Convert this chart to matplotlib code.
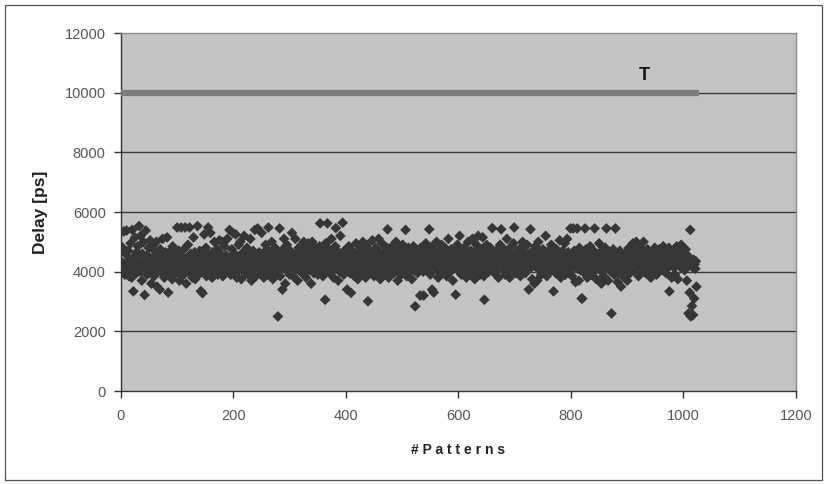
import numpy as np
import matplotlib
matplotlib.use("Agg")
import matplotlib.pyplot as plt
from matplotlib.patches import Rectangle

plt.rcParams['font.family'] = ['Liberation Sans', 'DejaVu Sans']

# Measured path delay [ps] for each test pattern (pattern index = position)
delay_ps = [
    4100, 3950, 4820, 4300, 4050, 5350, 4200, 3900, 4600, 4150, 5380, 4250, 4000, 4700, 3850, 4400,
    4150, 4950, 4300, 3800, 5400, 4200, 3340, 4500, 4050, 5150, 4300, 3950, 4650, 4200, 4850, 4100,
    5530, 4250, 4000, 5200, 4400, 3700, 4600, 4150, 5000, 4300, 3220, 4050, 5380, 4250, 3900, 4550,
    4200, 4800, 3950, 4350, 5050, 4100, 3600, 4450, 4000, 4900, 4250, 3850, 4700, 4150, 4400, 5000,
    3500, 4300, 4050, 4600, 4200, 3400, 4750, 4100, 4350, 3950, 5100, 4250, 4500, 3800, 4200, 4650,
    4000, 4400, 5150, 4150, 3300, 4550, 4250, 3900, 4700, 4100, 4300, 3750, 4850, 4200, 4050, 4450,
    4300, 3950, 4600, 4150, 5480, 4250, 4000, 4700, 3700, 4350, 4100, 5480, 4200, 3850, 4500, 4300,
    4750, 4050, 5480, 4250, 3600, 4400, 4150, 4900, 4000, 4300, 5480, 3950, 4600, 4200, 4450, 3800,
    4350, 5150, 4100, 4650, 3750, 4250, 4050, 4500, 5530, 4200, 3900, 4400, 4700, 4150, 3350, 4300,
    4550, 3280, 4250, 4000, 5250, 4400, 4100, 4800, 3850, 4300, 4600, 5480, 4150, 3950, 4350, 5300,
    4200, 4500, 3800, 4650, 4100, 4300, 5000, 4250, 3950, 4450, 4150, 4750, 3900, 4350, 4100, 5050,
    4300, 4600, 4050, 4200, 5000, 3850, 4400, 4150, 4850, 4250, 3950, 4550, 4100, 5100, 4300, 4000,
    4450, 5400, 4200, 3900, 4350, 4750, 4100, 5300, 4250, 4000, 4600, 4150, 5250, 4300, 3800, 4450,
    4200, 4900, 4050, 4350, 5000, 4150, 3750, 4500, 4250, 4650, 4050, 5200, 4300, 3950, 4400, 4150,
    4800, 4250, 3900, 4550, 4100, 4350, 5100, 4200, 3700, 4450, 4150, 4700, 4000, 4300, 5400, 4250,
    3850, 4500, 4150, 5450, 4300, 4050, 4650, 4200, 3950, 4400, 5300, 4100, 4600, 4250, 3800, 4350,
    4150, 4900, 4300, 4000, 4750, 4200, 5480, 4450, 3900, 4250, 4600, 4100, 5000, 4350, 3750, 4500,
    4200, 4050, 4800, 4300, 3950, 4650, 4150, 2500, 4400, 4250, 5450, 3850, 4550, 4100, 4300, 3400,
    4750, 4200, 5100, 4350, 3600, 4450, 4150, 4900, 4250, 4000, 4600, 4300, 3900, 4700, 4150, 4400,
    5300, 4200, 3850, 4500, 4250, 4050, 5100, 4350, 4150, 4650, 3700, 4300, 4800, 4200, 4550, 4000,
    4350, 4900, 4150, 3950, 4450, 5000, 4250, 4100, 4700, 3800, 4300, 4600, 4200, 4950, 4050, 4400,
    4150, 4750, 3600, 4300, 5000, 4200, 4550, 3950, 4400, 4250, 4800, 4100, 4650, 4300, 3900, 4500,
    4200, 4850, 5620, 4350, 4050, 4600, 4250, 3850, 4700, 4150, 4400, 3060, 4950, 4200, 4500, 5620,
    4300, 4050, 4750, 4200, 3950, 4450, 5100, 4150, 4600, 4300, 3800, 4500, 4250, 4850, 5460, 4100,
    4400, 4200, 3700, 4650, 4300, 4000, 5200, 4250, 4550, 4150, 5640, 4350, 3900, 4700, 4200, 4450,
    4100, 4600, 3400, 4300, 4150, 4850, 4250, 3950, 4500, 3290, 4200, 4700, 4050, 4400, 4300, 3850,
    4550, 4200, 4950, 4100, 4350, 3750, 4600, 4250, 4000, 4800, 4150, 4450, 4300, 3900, 5000, 4200,
    4650, 4100, 4400, 3800, 4250, 4900, 4150, 3010, 4550, 4300, 4050, 4700, 4200, 3950, 4450, 5050,
    4250, 4600, 3850, 4350, 4150, 4800, 4300, 4000, 4500, 4200, 5100, 4100, 4650, 3750, 4400, 4250,
    4950, 4150, 4550, 4300, 3900, 4700, 4200, 4450, 4050, 4800, 5420, 4250, 3800, 4600, 4150, 4350,
    4500, 4000, 4850, 4250, 4400, 3950, 4650, 4150, 4300, 5000, 4200, 4550, 3700, 4350, 4100, 4750,
    4250, 4450, 3900, 4600, 4150, 4900, 4300, 4050, 4700, 4200, 5400, 4350, 3850, 4500, 4250, 4800,
    4100, 4400, 4000, 4650, 4250, 3750, 4550, 4150, 4850, 4300, 4050, 2840, 4450, 4200, 4700, 3950,
    4350, 4150, 4600, 4250, 3200, 4800, 4100, 4500, 4300, 4000, 3200, 4650, 4200, 4450, 4950, 4150,
    4400, 4050, 4700, 4250, 5420, 4150, 3900, 4550, 4300, 3400, 4850, 4200, 3300, 4350, 4600, 4100,
    4250, 5000, 4050, 4450, 3800, 4700, 4200, 4550, 4350, 4100, 4900, 4250, 3950, 4650, 4300, 4200,
    4800, 4150, 4400, 3850, 4600, 4250, 5100, 4050, 4500, 4300, 4000, 4750, 4200, 4450, 3700, 4350,
    4150, 4650, 4300, 3230, 4550, 4200, 4900, 4050, 4400, 4250, 5200, 4100, 4700, 3900, 4350, 4500,
    4200, 4050, 4800, 4300, 4150, 4600, 3800, 4450, 4250, 5000, 4100, 4550, 4350, 3950, 4700, 4200,
    4400, 5100, 4150, 4650, 4250, 3750, 4500, 4300, 4900, 4050, 4350, 5200, 4200, 4600, 3900, 4450,
    4250, 4750, 4100, 5150, 4300, 3850, 3060, 4550, 4200, 4400, 4900, 4150, 4650, 4300, 4000, 4500,
    4200, 4800, 4350, 4050, 5460, 4250, 4600, 4150, 3950, 4450, 4300, 4700, 4100, 4550, 4250, 3800,
    4500, 4200, 4900, 4350, 5420, 4150, 4600, 4300, 4050, 4750, 4200, 3900, 4450, 4250, 5100, 4350,
    4150, 4650, 4300, 3800, 4500, 4200, 4850, 4050, 4400, 4250, 4950, 5480, 4300, 4600, 3950, 4450,
    4200, 4700, 4350, 4100, 4550, 4250, 3850, 4800, 4300, 4050, 5000, 4450, 4150, 4650, 4250, 3950,
    4500, 4300, 4900, 4100, 4350, 3400, 4600, 4200, 5420, 4450, 4150, 3750, 4700, 4250, 4400, 3600,
    4300, 4850, 4150, 4550, 3700, 4250, 5000, 4400, 4100, 4650, 4300, 3900, 4500, 4200, 4750, 4350,
    4050, 4600, 4250, 5200, 4400, 3850, 4550, 4150, 4700, 4300, 4000, 4450, 4250, 4900, 4100, 4350,
    4650, 3340, 4300, 4500, 4150, 3950, 4750, 4250, 4400, 4050, 4600, 4300, 5050, 4200, 3800, 4450,
    4250, 4700, 4100, 4550, 4350, 4950, 3900, 4500, 4200, 5100, 4300, 4650, 4050, 4400, 4250, 5450,
    4200, 4600, 3850, 4450, 5450, 4150, 4700, 4300, 3650, 4550, 4250, 5450, 4100, 4400, 3700, 4800,
    4300, 4050, 4500, 3100, 3100, 4650, 4200, 4400, 3950, 5450, 4250, 4750, 4150, 3800, 4550, 4300,
    4450, 4100, 4850, 4250, 3900, 4600, 4300, 4150, 4700, 4000, 5450, 4350, 4200, 3750, 4500, 4250,
    4600, 4150, 4950, 4300, 4050, 4450, 3600, 4700, 4200, 4550, 3850, 4350, 4250, 4800, 4100, 5450,
    4400, 4250, 3700, 4550, 4150, 4650, 4300, 4000, 2600, 4450, 4200, 4750, 4350, 3900, 4500, 5450,
    4150, 4350, 4600, 3650, 4250, 4450, 3950, 4700, 4200, 3500, 4550, 4300, 4050, 4400, 4250, 3800,
    4500, 4150, 4650, 4300, 3700, 4450, 4200, 4800, 4350, 3950, 4600, 4100, 4500, 4250, 4950, 4350,
    4050, 4700, 4250, 4500, 5000, 4150, 4400, 4300, 3850, 4600, 4200, 4450, 4800, 4250, 4100, 4550,
    4350, 5000, 4200, 4650, 4300, 3950, 4500, 4150, 4750, 4250, 4400, 4050, 4600, 4300, 3800, 4450,
    4200, 4700, 4350, 4100, 4550, 4800, 4250, 4450, 3900, 4650, 4300, 4150, 4500, 4750, 4200, 4400,
    4050, 4600, 4350, 4250, 4850, 4150, 4500, 4300, 4700, 3950, 4400, 4250, 4600, 4150, 4800, 3340,
    4450, 4250, 4650, 3800, 4350, 4550, 4150, 4700, 4300, 3900, 4450, 4200, 4850, 4600, 3750, 4350,
    4500, 4250, 4700, 4150, 4900, 4400, 4300, 4800, 4200, 4600, 4050, 4450, 4750, 4350, 3700, 4550,
    4200, 2600, 4450, 3300, 5400, 2500, 4300, 2850, 4150, 2550, 4400, 3100, 4250, 4100, 4350, 3500,
]
patterns = list(range(len(delay_ps)))

# Timing constraint T
t_value = 10000
t_span = [0, 1028]
t_label = "T"

x_ticks = [0, 200, 400, 600, 800, 1000, 1200]
y_ticks = [0, 2000, 4000, 6000, 8000, 10000, 12000]

fig = plt.figure(figsize=(8.27, 4.84), dpi=100)
fig.patch.set_facecolor("white")
fig.patches.append(Rectangle((0.006, 0.008), 0.988, 0.982, transform=fig.transFigure,
                             fill=False, edgecolor="#505050", linewidth=0.9))

ax = fig.add_axes([0.1463, 0.1921, 0.8162, 0.7397])
ax.set_facecolor("#c3c3c3")

for yv in y_ticks[1:-1]:
    ax.axhline(yv, color="#3a3a3a", linewidth=1.0, zorder=1)

ax.scatter(patterns, delay_ps, marker="D", s=30, color="#363636",
           edgecolors="none", zorder=3)

ax.plot(t_span, [t_value, t_value], color="#7c7c7c", linewidth=4.5,
        solid_capstyle="butt", zorder=4)
ax.text(931, 10300, t_label, fontsize=13, fontweight="bold", color="#111111",
        ha="center", va="bottom")

ax.set_xlim(0, 1200)
ax.set_ylim(0, 12000)
ax.set_xticks(x_ticks)
ax.set_yticks(y_ticks)

for side in ("top", "right"):
    ax.spines[side].set_color("#8a8a8a")
    ax.spines[side].set_linewidth(1.0)
for side in ("left", "bottom"):
    ax.spines[side].set_color("#333333")
    ax.spines[side].set_linewidth(1.0)

ax.tick_params(axis="both", direction="out", length=5, width=1, color="#333333",
               labelsize=10.5, labelcolor="#555555")
ax.tick_params(axis="y", pad=6)
ax.tick_params(axis="x", pad=8)

ax.set_xlabel("# P a t t e r n s", fontsize=10, fontweight="bold", color="#222222", labelpad=14)
ax.set_ylabel("Delay [ps]", fontsize=12.5, fontweight="bold", color="#222222", labelpad=12)

fig.savefig("out.png", dpi=100)
